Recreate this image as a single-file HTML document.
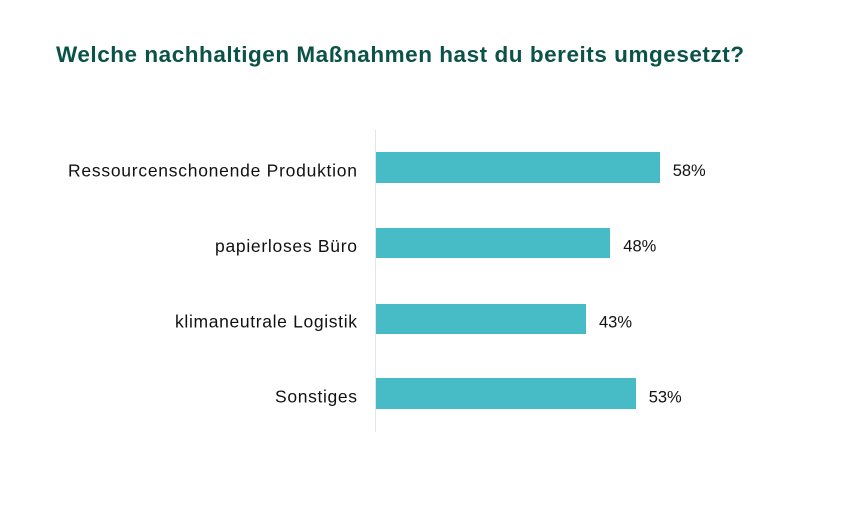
<!DOCTYPE html>
<html>
<head>
<meta charset="utf-8">
<style>
  html,body{margin:0;padding:0;background:#ffffff;}
  body{width:850px;height:519px;overflow:hidden;}
  svg{display:block;}
  .lbl{font-family:"Liberation Sans",Arial,sans-serif;font-size:17.5px;fill:#111111;}
  .val{font-family:"Liberation Sans",Arial,sans-serif;font-size:16.5px;fill:#111111;}
  .ttl{font-family:"Liberation Sans",Arial,sans-serif;font-size:22.5px;font-weight:bold;fill:#0b5249;}
</style>
</head>
<body>
<svg width="850" height="519" viewBox="0 0 850 519" xmlns="http://www.w3.org/2000/svg">
  <rect x="0" y="0" width="850" height="519" fill="#ffffff"/>
  <text class="ttl" x="56" y="62" textLength="688" lengthAdjust="spacing">Welche nachhaltigen Maßnahmen hast du bereits umgesetzt?</text>

  <line x1="375.5" y1="130" x2="375.5" y2="432" stroke="#e6e6e6" stroke-width="1"/>

  <rect x="376" y="152" width="284" height="31" fill="#48bcc6"/>
  <rect x="376" y="228" width="234" height="30" fill="#48bcc6"/>
  <rect x="376" y="304" width="210" height="30" fill="#48bcc6"/>
  <rect x="376" y="378" width="260" height="31" fill="#48bcc6"/>

  <text class="lbl" x="68" y="176.5" textLength="289" lengthAdjust="spacing">Ressourcenschonende Produktion</text>
  <text class="lbl" x="215" y="252" textLength="142" lengthAdjust="spacing">papierloses Büro</text>
  <text class="lbl" x="175" y="327.5" textLength="182" lengthAdjust="spacing">klimaneutrale Logistik</text>
  <text class="lbl" x="275" y="402.5" textLength="82" lengthAdjust="spacing">Sonstiges</text>

  <text class="val" x="672.7" y="176">58%</text>
  <text class="val" x="623.3" y="251.5">48%</text>
  <text class="val" x="599" y="327.5">43%</text>
  <text class="val" x="648.7" y="402.5">53%</text>
</svg>
</body>
</html>
